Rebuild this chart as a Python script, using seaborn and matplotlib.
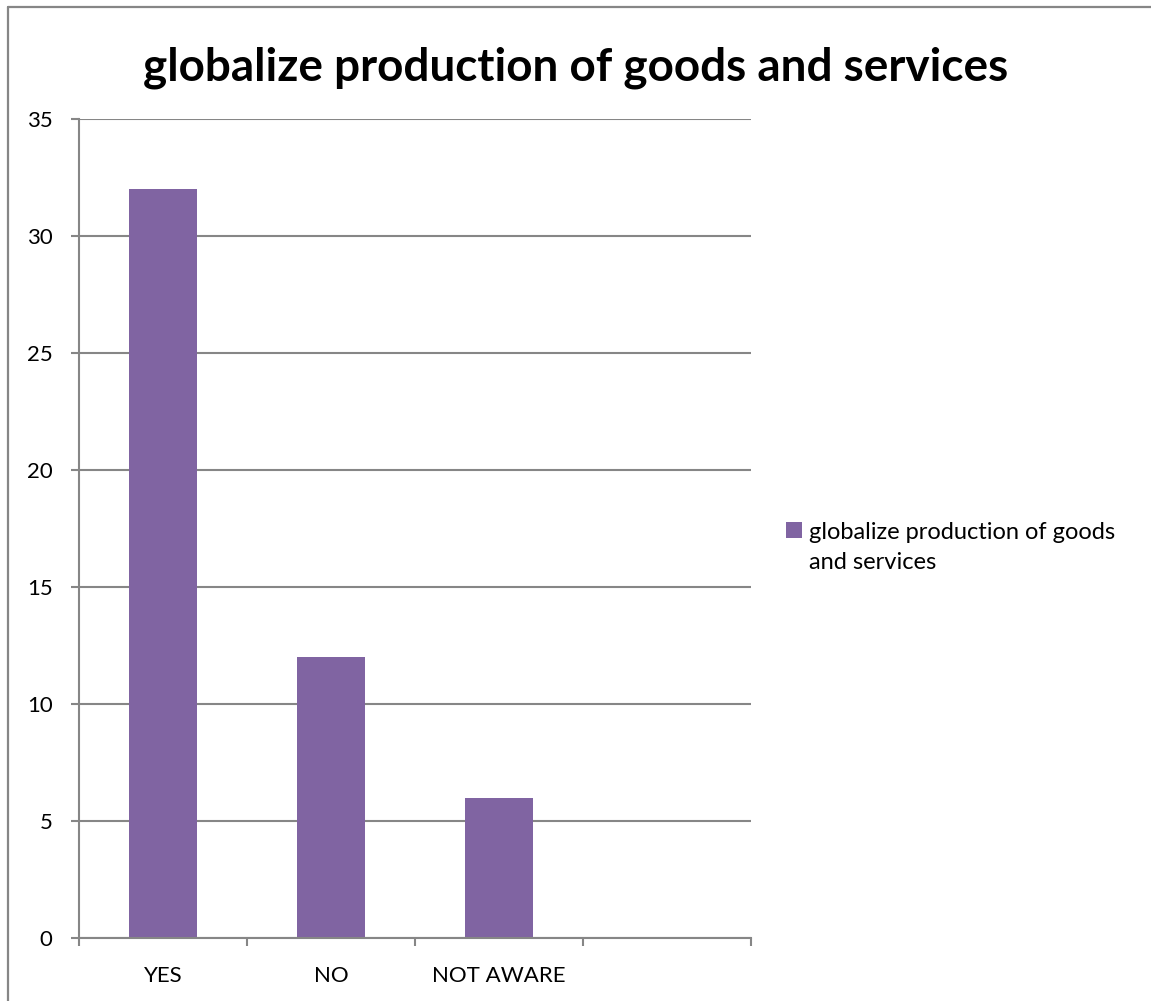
import pandas as pd
import matplotlib
matplotlib.use("Agg")
import matplotlib.pyplot as plt
import seaborn as sns
from matplotlib.lines import Line2D

# Données du graphique
categories = ["YES", "NO", "NOT AWARE", ""]
counts = [32, 12, 6, None]
series_name = "globalize production of goods and services"
legend_lines = ["globalize production of goods", "and services"]
y_ticks = [0, 5, 10, 15, 20, 25, 30, 35]

BAR_COLOR = "#8064A2"
GRID_COLOR = "#868686"

sns.set_theme(style="white")
plt.rcParams["font.family"] = ["Lato", "DejaVu Sans"]
plt.rcParams["text.color"] = "black"
plt.rcParams["xtick.labelcolor"] = "black"
plt.rcParams["ytick.labelcolor"] = "black"

df = pd.DataFrame({"categorie": categories, "valeur": counts, "serie": series_name})

fig = plt.figure(figsize=(11.51, 10.01), dpi=100)
ax = fig.add_axes([0.0686, 0.0629, 0.5839, 0.8182])

sns.barplot(data=df, x="categorie", y="valeur", hue="serie", order=categories,
            palette=[BAR_COLOR], width=0.4, saturation=1, linewidth=0,
            legend=False, ax=ax)

ax.set_xlim(-0.5, len(categories) - 0.5)
ax.set_ylim(0, 35)
ax.set_yticks(y_ticks)
ax.set_xlabel("")
ax.set_ylabel("")

# Grille horizontale
ax.yaxis.grid(True, color=GRID_COLOR, linewidth=1.5)
ax.set_axisbelow(True)
for s in ["top", "right"]:
    ax.spines[s].set_visible(False)
for s in ["left", "bottom"]:
    ax.spines[s].set_color(GRID_COLOR)
    ax.spines[s].set_linewidth(1.5)

# Graduations aux limites des catégories
ax.set_xticks(range(len(categories)))
ax.set_xticklabels(categories, fontsize=16, color="black")
ax.tick_params(axis="x", length=0, pad=20)
ax.set_xticks([i - 0.5 for i in range(len(categories) + 1)], minor=True)
ax.tick_params(axis="x", which="minor", length=6, color=GRID_COLOR, width=1.5,
               direction="out", bottom=True)
ax.tick_params(axis="y", length=6, color=GRID_COLOR, width=1.5, direction="out",
               left=True, labelsize=16, labelcolor="black", pad=13)

# Titre
fig.text(0.5, 0.920, series_name, ha="center", va="baseline", fontsize=33,
         fontweight="bold", color="black")

# Légende (la deuxième ligne est alignée sous le texte)
handle = Line2D([], [], marker="s", linestyle="none", markersize=11,
                markerfacecolor=BAR_COLOR, markeredgewidth=0)
leg = fig.legend([handle], [legend_lines[0]], loc="center left",
                 bbox_to_anchor=(0.683, 0.4685), frameon=False, fontsize=17,
                 handlelength=0.7, handletextpad=0.25, borderpad=0, borderaxespad=0,
                 labelcolor="black")
fig.canvas.draw()
x0 = leg.get_texts()[0].get_window_extent().x0
fig.text(x0 / fig.bbox.width, 0.4376, legend_lines[1], ha="left", va="center",
         fontsize=17, color="black")

# Cadre extérieur (haut et gauche)
fig.add_artist(Line2D([0.007, 1.0], [0.993, 0.993], transform=fig.transFigure,
                      color=GRID_COLOR, linewidth=1.6))
fig.add_artist(Line2D([0.007, 0.007], [0.0, 0.993], transform=fig.transFigure,
                      color=GRID_COLOR, linewidth=1.6))

plt.savefig("out.png", dpi=100)
